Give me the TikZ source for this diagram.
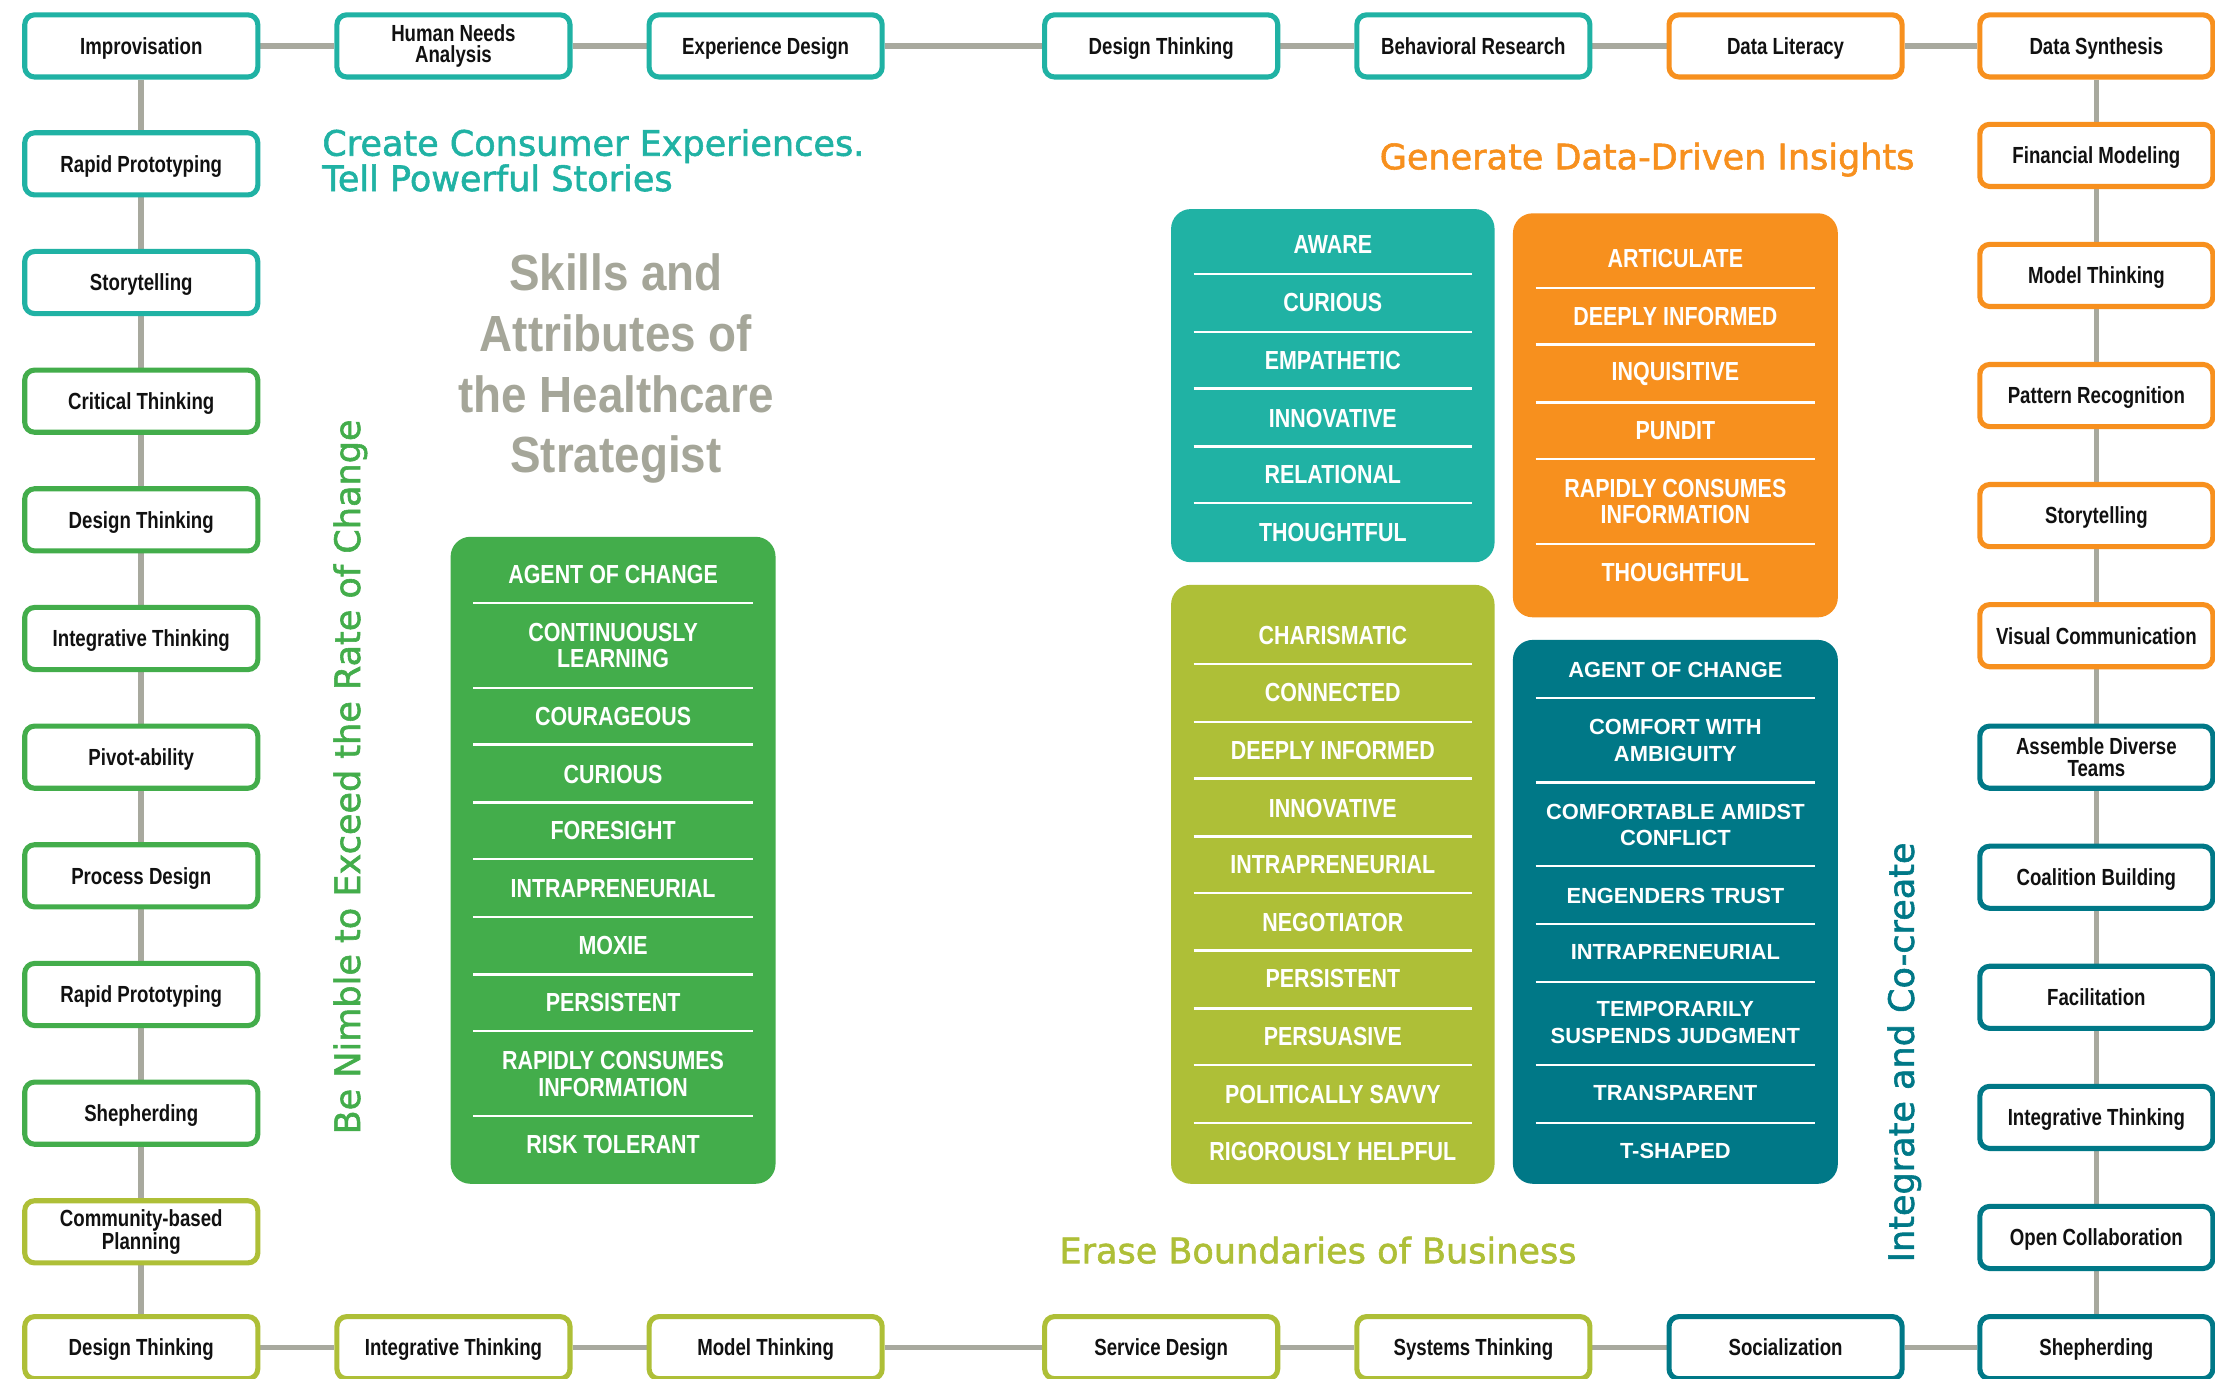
\documentclass[tikz,border=0pt]{standalone}
\usepackage{fontspec}
\setmainfont{Liberation Sans}
\newfontfamily\condfont[FakeStretch=0.80]{Liberation Sans}
\newfontfamily\attrfont[FakeStretch=0.82]{Liberation Sans}
\newfontfamily\titlefont[FakeStretch=0.90]{Liberation Sans}
\newfontfamily\widefont[FakeBold=1.6]{DejaVu Sans}
\usetikzlibrary{backgrounds}
\definecolor{cteal}{HTML}{20B2A4}
\definecolor{cgreen}{HTML}{43AD4B}
\definecolor{colive}{HTML}{AEBF37}
\definecolor{corange}{HTML}{F7901E}
\definecolor{cdark}{HTML}{007887}
\definecolor{clink}{HTML}{A8A99E}
\definecolor{ctitle}{HTML}{A5A699}
\definecolor{ctext}{HTML}{111111}
\begin{document}
\begin{tikzpicture}[x=1pt,y=-1pt,
  skillbox/.style={draw=#1, line width=3.6pt, rounded corners=7pt, fill=white,
    minimum width=165pt, minimum height=44pt, inner sep=1pt, align=center,
    text height=11.8pt, text depth=0pt,
    text=ctext, font=\condfont\bfseries\fontsize{16.5}{15}\selectfont},
  twolines/.style={text height=, text depth=},
  conn/.style={draw=clink, line width=4pt},
  panel/.style={fill=#1, rounded corners=14pt, inner sep=0pt},
  attr/.style={text=white, inner sep=0pt, align=center,
    font=\attrfont\bfseries\fontsize{18.5}{19}\selectfont},
  darkattr/.style={text=white, inner sep=0pt, align=center,
    font=\bfseries\fontsize{15.5}{19}\selectfont},
  sepline/.style={draw=white, line width=1.8pt},
  sectitle/.style={inner sep=0pt, font=\widefont\fontsize{24.8}{23}\selectfont},
]
\useasboundingbox (0,0) rectangle (1568,976);

% ---------- top row ----------
\node[skillbox=cteal]   (t1) at (100,32.5)  {Improvisation};
\node[skillbox=cteal, twolines] (t2) at (321,32.5)  {Human Needs\\Analysis};
\node[skillbox=cteal]   (t3) at (542,32.5)  {Experience Design};
\node[skillbox=cteal]   (t4) at (822,32.5)  {Design Thinking};
\node[skillbox=cteal]   (t5) at (1043,32.5) {Behavioral Research};
\node[skillbox=corange] (t6) at (1264,32.5) {Data Literacy};
\node[skillbox=corange] (t7) at (1484,32.5) {Data Synthesis};

% ---------- left column ----------
\node[skillbox=cteal]  (l1)  at (100,116) {Rapid Prototyping};
\node[skillbox=cteal]  (l2)  at (100,200) {Storytelling};
\node[skillbox=cgreen] (l3)  at (100,284) {Critical Thinking};
\node[skillbox=cgreen] (l4)  at (100,368) {Design Thinking};
\node[skillbox=cgreen] (l5)  at (100,452) {Integrative Thinking};
\node[skillbox=cgreen] (l6)  at (100,536) {Pivot-ability};
\node[skillbox=cgreen] (l7)  at (100,620) {Process Design};
\node[skillbox=cgreen] (l8)  at (100,704) {Rapid Prototyping};
\node[skillbox=cgreen] (l9)  at (100,788) {Shepherding};
\node[skillbox=colive, twolines] (l10) at (100,872) {Community-based\\Planning};

% ---------- bottom row ----------
\node[skillbox=colive] (b1) at (100,954)  {Design Thinking};
\node[skillbox=colive] (b2) at (321,954)  {Integrative Thinking};
\node[skillbox=colive] (b3) at (542,954)  {Model Thinking};
\node[skillbox=colive] (b4) at (822,954)  {Service Design};
\node[skillbox=colive] (b5) at (1043,954) {Systems Thinking};
\node[skillbox=cdark]  (b6) at (1264,954) {Socialization};
\node[skillbox=cdark]  (b7) at (1484,954) {Shepherding};

% ---------- right column ----------
\node[skillbox=corange] (r1)  at (1484,110) {Financial Modeling};
\node[skillbox=corange] (r2)  at (1484,195) {Model Thinking};
\node[skillbox=corange] (r3)  at (1484,280) {Pattern Recognition};
\node[skillbox=corange] (r4)  at (1484,365) {Storytelling};
\node[skillbox=corange] (r5)  at (1484,450) {Visual Communication};
\node[skillbox=cdark, twolines] (r6)  at (1484,536) {Assemble Diverse\\Teams};
\node[skillbox=cdark]   (r7)  at (1484,621) {Coalition Building};
\node[skillbox=cdark]   (r8)  at (1484,706) {Facilitation};
\node[skillbox=cdark]   (r9)  at (1484,791) {Integrative Thinking};
\node[skillbox=cdark]   (r10) at (1484,876) {Open Collaboration};

% ---------- connectors ----------
\begin{scope}[on background layer]
  \fill[white] (0,0) rectangle (1568,976);
  \draw[conn] (t1) -- (t2); \draw[conn] (t2) -- (t3); \draw[conn] (t3) -- (t4);
  \draw[conn] (t4) -- (t5); \draw[conn] (t5) -- (t6); \draw[conn] (t6) -- (t7);
  \draw[conn] (t1) -- (l1); \draw[conn] (l1) -- (l2); \draw[conn] (l2) -- (l3);
  \draw[conn] (l3) -- (l4); \draw[conn] (l4) -- (l5); \draw[conn] (l5) -- (l6);
  \draw[conn] (l6) -- (l7); \draw[conn] (l7) -- (l8); \draw[conn] (l8) -- (l9);
  \draw[conn] (l9) -- (l10); \draw[conn] (l10) -- (b1);
  \draw[conn] (b1) -- (b2); \draw[conn] (b2) -- (b3); \draw[conn] (b3) -- (b4);
  \draw[conn] (b4) -- (b5); \draw[conn] (b5) -- (b6); \draw[conn] (b6) -- (b7);
  \draw[conn] (t7) -- (r1); \draw[conn] (r1) -- (r2); \draw[conn] (r2) -- (r3);
  \draw[conn] (r3) -- (r4); \draw[conn] (r4) -- (r5); \draw[conn] (r5) -- (r6);
  \draw[conn] (r6) -- (r7); \draw[conn] (r7) -- (r8); \draw[conn] (r8) -- (r9);
  \draw[conn] (r9) -- (r10); \draw[conn] (r10) -- (b7);
\end{scope}

% ---------- section titles ----------
\node[sectitle, text=cteal, anchor=west, align=left] (hcreate) at (228,113.5)
  {Create Consumer Experiences.\\Tell Powerful Stories};
\node[sectitle, text=corange] (hdata) at (1166,113) {Generate Data-Driven Insights};
\node[sectitle, text=cgreen, rotate=90] (hnimble) at (248,550) {Be Nimble to Exceed the Rate of Change};
\node[sectitle, text=cdark, rotate=90] (hinteg) at (1348,745) {Integrate and Co-create};
\node[sectitle, text=colive] (herase) at (933,885) {Erase Boundaries of Business};

% ---------- main title ----------
\node[text=ctitle, align=center, inner sep=0pt,
  font=\titlefont\bfseries\fontsize{36}{43}\selectfont] (title) at (436,261)
  {Skills and\\Attributes of\\the Healthcare\\Strategist};

% ---------- green panel ----------
\node[panel=cgreen, minimum width=230pt, minimum height=458pt] (pgreen) at (434,609) {};
\foreach \y/\t [count=\i] in {407/AGENT OF CHANGE, 457/{CONTINUOUSLY\\LEARNING},
  507/COURAGEOUS, 548/CURIOUS, 588/FORESIGHT, 629/INTRAPRENEURIAL, 669/MOXIE,
  710/PERSISTENT, 760/{RAPIDLY CONSUMES\\INFORMATION}, 810/RISK TOLERANT}
  \node[attr] (g\i) at (434,\y) {\t};
\foreach \y in {427,487,527,568,608,649,690,730,790}
  \draw[sepline] (335,\y) -- (533,\y);

% ---------- teal panel ----------
\node[panel=cteal, minimum width=229pt, minimum height=250pt] (pteal) at (943.5,273) {};
\foreach \y/\t [count=\i] in {173/AWARE, 214/CURIOUS, 255/EMPATHETIC,
  296/INNOVATIVE, 336/RELATIONAL, 377/THOUGHTFUL}
  \node[attr] (c\i) at (943.5,\y) {\t};
\foreach \y in {194,235,275,316,356}
  \draw[sepline] (845,\y) -- (1042,\y);

% ---------- orange panel ----------
\node[panel=corange, minimum width=230pt, minimum height=286pt] (porange) at (1186,294) {};
\foreach \y/\t [count=\i] in {183/ARTICULATE, 224/DEEPLY INFORMED, 265/INQUISITIVE,
  305/PUNDIT, 355/{RAPIDLY CONSUMES\\INFORMATION}, 405/THOUGHTFUL}
  \node[attr] (o\i) at (1186,\y) {\t};
\foreach \y in {204,244,285,325,385}
  \draw[sepline] (1087,\y) -- (1285,\y);

% ---------- olive panel ----------
\node[panel=colive, minimum width=229pt, minimum height=424pt] (polive) at (943.5,626) {};
\foreach \y/\t [count=\i] in {450/CHARISMATIC, 490/CONNECTED, 531/DEEPLY INFORMED,
  572/INNOVATIVE, 612/INTRAPRENEURIAL, 653/NEGOTIATOR, 693/PERSISTENT,
  734/PERSUASIVE, 775/POLITICALLY SAVVY, 815/RIGOROUSLY HELPFUL}
  \node[attr] (v\i) at (943.5,\y) {\t};
\foreach \y in {470,511,551,592,632,673,714,754,795}
  \draw[sepline] (845,\y) -- (1042,\y);

% ---------- dark teal panel ----------
\node[panel=cdark, minimum width=230pt, minimum height=385pt] (pdark) at (1186,645.5) {};
\foreach \y/\t [count=\i] in {474/AGENT OF CHANGE, 524/{COMFORT WITH\\AMBIGUITY},
  584/{COMFORTABLE AMIDST\\CONFLICT}, 634/ENGENDERS TRUST, 674/INTRAPRENEURIAL,
  724/{TEMPORARILY\\SUSPENDS JUDGMENT}, 774/TRANSPARENT, 815/T-SHAPED}
  \node[darkattr] (d\i) at (1186,\y) {\t};
\foreach \y in {494,554,613,654,695,754,795}
  \draw[sepline] (1087,\y) -- (1285,\y);
\end{tikzpicture}
\end{document}
